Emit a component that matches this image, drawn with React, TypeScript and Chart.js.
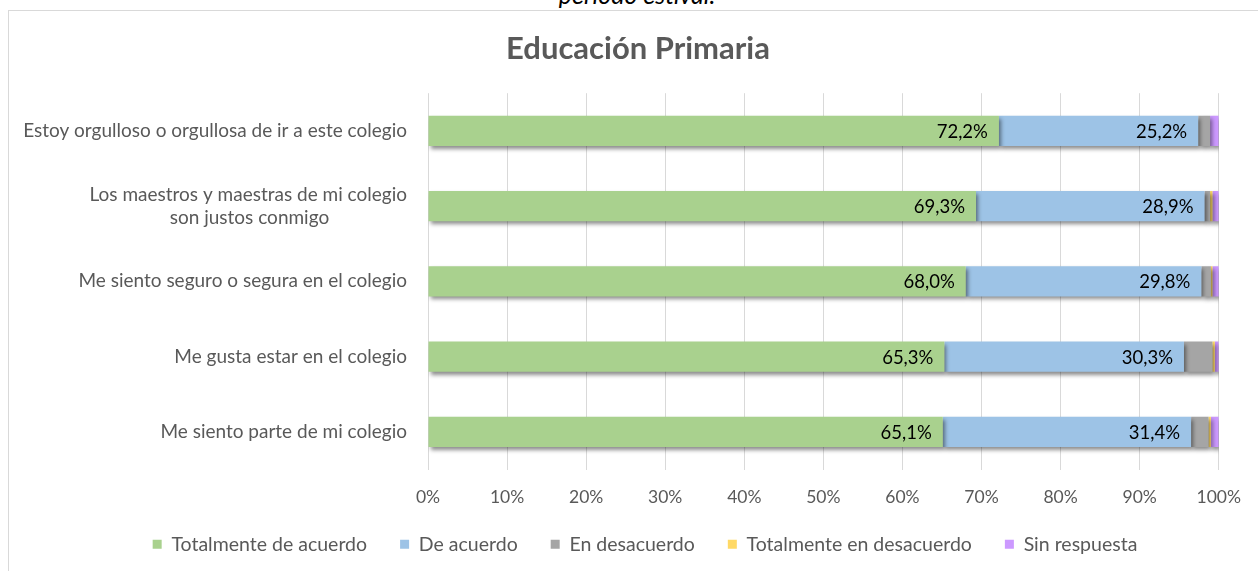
import React, { useEffect, useRef } from "react";
import { Chart, registerables } from "chart.js";

Chart.register(...registerables);

const categories: (string | string[])[] = [
  "Estoy orgulloso o orgullosa de ir a este colegio",
  ["Los maestros y maestras de mi colegio", "son justos conmigo" + "\u00A0".repeat(16)],
  "Me siento seguro o segura en el colegio",
  "Me gusta estar en el colegio",
  "Me siento parte de mi colegio",
];
const totalmenteDeAcuerdo = [72.2, 69.3, 68.0, 65.3, 65.1];
const deAcuerdo = [25.2, 28.9, 29.8, 30.3, 31.4];
const enDesacuerdo = [1.5, 0.7, 1.2, 3.6, 2.2];
const totalmenteEnDesacuerdo = [0, 0.3, 0.2, 0.3, 0.3];
const sinRespuesta = [1.1, 0.8, 0.8, 0.5, 1.0];
const seriesNames = [
  "Totalmente de acuerdo",
  "De acuerdo",
  "En desacuerdo",
  "Totalmente en desacuerdo",
  "Sin respuesta",
];
const xTicks = [0, 10, 20, 30, 40, 50, 60, 70, 80, 90, 100];

const FONT = "Lato";

const shadowAndLabels = {
  id: "shadowAndLabels",
  afterLayout(chart: any) {
    const l = chart.legend;
    if (l) {
      l.top -= 7;
      l.bottom -= 7;
      l.left += 28;
      l.right += 28;
    }
    const t = chart.titleBlock;
    if (t) {
      t.left += 21;
      t.right += 21;
    }
  },
  beforeDatasetsDraw(chart: any) {
    const ctx = chart.ctx;
    ctx.save();
    ctx.shadowColor = "rgba(0,0,0,0.45)";
    ctx.shadowBlur = 4;
    ctx.shadowOffsetX = 2;
    ctx.shadowOffsetY = 3;
  },
  afterDatasetsDraw(chart: any) {
    const ctx = chart.ctx;
    ctx.restore();
    ctx.save();
    ctx.font = `18.5px ${FONT}`;
    ctx.fillStyle = "#000000";
    ctx.textAlign = "right";
    ctx.textBaseline = "middle";
    [0, 1].forEach((di) => {
      const meta = chart.getDatasetMeta(di);
      const data = chart.data.datasets[di].data as number[];
      meta.data.forEach((bar: any, i: number) => {
        const v = data[i];
        const txt = v.toFixed(1).replace(".", ",") + "%";
        ctx.fillText(txt, bar.x - 11, bar.y + 1);
      });
    });
    ctx.restore();
  },
};

export default function App() {
  const ref = useRef<HTMLCanvasElement | null>(null);
  useEffect(() => {
    if (!ref.current) return;
    const colors = ["#A9D18E", "#9DC3E6", "#A5A5A5", "#FFD966", "#CC99FF"];
    const values = [totalmenteDeAcuerdo, deAcuerdo, enDesacuerdo, totalmenteEnDesacuerdo, sinRespuesta];
    const chart = new Chart(ref.current, {
      type: "bar",
      data: {
        labels: categories,
        datasets: values.map((d, i) => ({
          label: seriesNames[i],
          data: d,
          backgroundColor: colors[i],
          borderWidth: 0,
          barPercentage: 0.4,
          categoryPercentage: 1,
        })),
      },
      options: {
        indexAxis: "y",
        responsive: false,
        animation: false,
        layout: { padding: { left: 0, right: 33, top: 0, bottom: 0 } },
        scales: {
          x: {
            stacked: true,
            min: 0,
            max: 100,
            afterBuildTicks: (scale: any) => {
              scale.ticks = xTicks.map((v) => ({ value: v }));
            },
            afterFit: (scale: any) => {
              scale.height = 39;
            },
            ticks: {
              callback: (v: any) => v + "%",
              font: { family: FONT, size: 17.5 },
              color: "#595959",
              padding: 17,
            },
            grid: { color: "#d9d9d9", drawTicks: false },
            border: { display: false },
          },
          y: {
            stacked: true,
            afterFit: (scale: any) => {
              scale.width = 419;
            },
            ticks: {
              font: { family: FONT, size: 19 },
              color: "#595959",
              padding: 21,
            },
            grid: { display: false, drawTicks: false },
            border: { display: false },
          },
        },
        plugins: {
          title: {
            display: true,
            text: "Educación Primaria",
            font: { family: FONT, size: 31, weight: "bold" },
            color: "#595959",
            padding: { top: 19, bottom: 26 },
          },
          legend: {
            position: "bottom",
            labels: {
              boxWidth: 9,
              boxHeight: 9,
              font: { family: FONT, size: 19.5 },
              color: "#595959",
              padding: 33,
            },
          },
          tooltip: { enabled: false },
        },
      },
      plugins: [shadowAndLabels],
    } as any);
    return () => chart.destroy();
  }, []);

  return (
    <div
      style={{
        position: "fixed",
        left: 0,
        top: 0,
        width: 1258,
        height: 571,
        overflow: "hidden",
        background: "#fff",
      }}
    >
      <div
        style={{
          position: "absolute",
          left: 0,
          top: -21,
          width: 1274,
          textAlign: "center",
          fontStyle: "italic",
          fontFamily: FONT,
          fontSize: 25,
          color: "#000",
        }}
      >
        período estival.
      </div>
      <div
        style={{
          position: "absolute",
          left: 8,
          top: 10,
          width: 1260,
          height: 570,
          borderTop: "1px solid #d9d9d9",
          borderLeft: "1px solid #d9d9d9",
        }}
      >
        <canvas ref={ref} width={1249} height={560} style={{ display: "block" }} />
      </div>
    </div>
  );
}
